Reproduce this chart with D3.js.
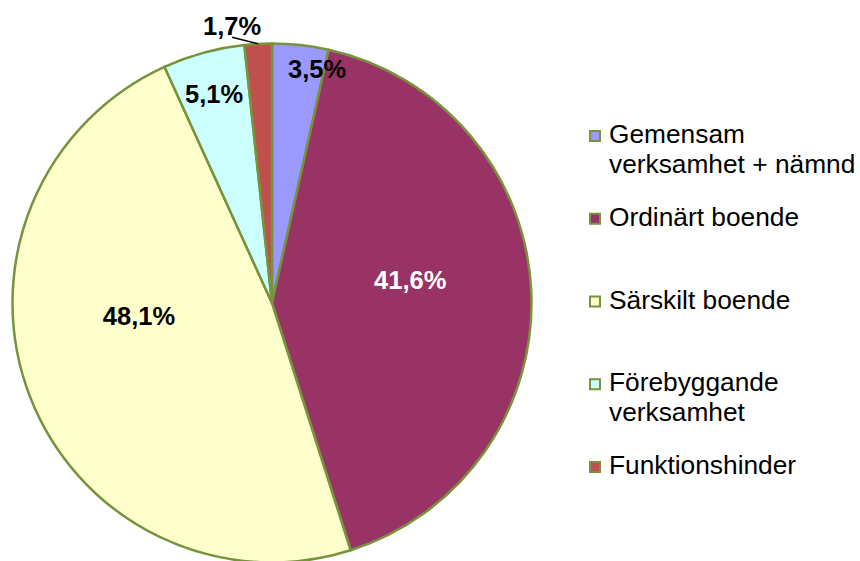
<!DOCTYPE html>
<html>
<head>
<meta charset="utf-8">
<script src="https://cdn.jsdelivr.net/npm/d3@7"></script>
<style>
  body { margin: 0; background: #fff; }
  svg { display: block; font-family: "Liberation Sans", Arial, sans-serif; }
</style>
</head>
<body>
<div id="chart"></div>
<script>
// Données
const categories = ["Gemensam verksamhet + nämnd", "Ordinärt boende", "Särskilt boende", "Förebyggande verksamhet", "Funktionshinder"];
const shares = [3.5, 41.6, 48.1, 5.1, 1.7];
const colors = ["#9999FF", "#993366", "#FFFFCC", "#CCFFFF", "#C0504D"];

// Placement des étiquettes (angle en degrés, rayon relatif)
const labelSpots = [[10.9, 0.92], [80.5, 0.54], [264.4, 0.515], [344.5, 0.835], [351.8, 1.078]];
const labelColors = ["#000", "#fff", "#000", "#000", "#000"];

const width = 860, height = 561;
const cx = 272, cy = 303, radius = 259.5;
const edge = "#77933C";

const svg = d3.select("#chart").append("svg")
    .attr("width", width)
    .attr("height", height);

const data = categories.map((c, i) => ({ name: c, value: shares[i], color: colors[i] }));

const pie = d3.pie().sort(null).value(d => d.value);
const arc = d3.arc().innerRadius(0).outerRadius(radius);
const arcs = pie(data);

const g = svg.append("g").attr("transform", "translate(" + cx + "," + cy + ")");

g.selectAll("path.slice")
  .data(arcs).enter()
  .append("path")
  .attr("class", "slice")
  .attr("d", arc)
  .attr("fill", d => d.data.color)
  .attr("stroke", edge)
  .attr("stroke-width", 2.5)
  .attr("stroke-linejoin", "round");

// Format suédois
const sv = d3.formatLocale({ decimal: ",", thousands: " ", grouping: [3], currency: ["", " kr"] });
const fmt = sv.format(".1f");

const labelSize = 25.5;
const capHalf = labelSize * 0.716 / 2;

function polar(angleDeg, r) {
    const a = angleDeg * Math.PI / 180;
    return [r * Math.sin(a), -r * Math.cos(a)];
}

// Ligne de rappel pour la petite part
const small = arcs[4];
const mid = (small.startAngle + small.endAngle) / 2;
const lp = polar(labelSpots[4][0], labelSpots[4][1] * radius);
g.append("line")
  .attr("x1", radius * Math.sin(mid))
  .attr("y1", -radius * Math.cos(mid))
  .attr("x2", lp[0])
  .attr("y2", lp[1] + capHalf + 2)
  .attr("stroke", "#000")
  .attr("stroke-width", 1.5);

g.selectAll("text.lbl")
  .data(arcs).enter()
  .append("text")
  .attr("class", "lbl")
  .attr("x", (d, i) => polar(labelSpots[i][0], labelSpots[i][1] * radius)[0])
  .attr("y", (d, i) => polar(labelSpots[i][0], labelSpots[i][1] * radius)[1] + capHalf)
  .attr("text-anchor", "middle")
  .style("font-size", labelSize + "px")
  .style("font-weight", "bold")
  .attr("fill", (d, i) => labelColors[i])
  .text(d => fmt(d.data.value) + "%");

// Légende
const legend = svg.append("g").attr("transform", "translate(589,143)");
const step = 82.75, lineGap = 30, maxW = 256;

data.forEach(function(d, i) {
    const row = legend.append("g").attr("transform", "translate(0," + (i * step) + ")");
    row.append("rect")
       .attr("x", 1)
       .attr("y", -12)
       .attr("width", 10)
       .attr("height", 10)
       .attr("fill", d.color)
       .attr("stroke", edge)
       .attr("stroke-width", 2);

    const text = row.append("text")
       .attr("x", 20)
       .attr("y", 0)
       .style("font-size", "26.3px")
       .attr("fill", "#000");

    // Retour à la ligne
    const words = d.name.split(" ");
    let line = [], lineNo = 0;
    let tspan = text.append("tspan").attr("x", 20).attr("y", 0);
    words.forEach(function(w) {
        line.push(w);
        tspan.text(line.join(" "));
        if (tspan.node().getComputedTextLength() > maxW && line.length > 1) {
            line.pop();
            tspan.text(line.join(" "));
            line = [w];
            lineNo++;
            tspan = text.append("tspan").attr("x", 20).attr("y", lineNo * lineGap).text(w);
        }
    });
});
</script>
</body>
</html>
